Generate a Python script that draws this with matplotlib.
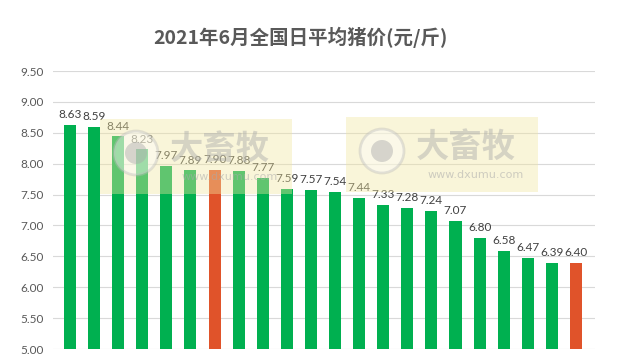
import matplotlib
matplotlib.use('Agg')
import numpy as np
import matplotlib.pyplot as plt
from matplotlib.patches import Rectangle, Circle

plt.rcParams['font.family'] = ['Noto Sans CJK SC', 'DejaVu Sans']

title = '2021年6月全国日平均猪价(元/斤)'
prices = [8.63, 8.59, 8.44, 8.23, 7.97, 7.89, 7.90, 7.88, 7.77, 7.59, 7.57,
          7.54, 7.44, 7.33, 7.28, 7.24, 7.07, 6.80, 6.58, 6.47, 6.39, 6.40]
highlight = [6, 21]          # orange bars
y_ticks = np.arange(5.0, 9.51, 0.5)

green = '#00B050'
orange = '#E0532A'
grey = '#595959'

fig = plt.figure(figsize=(6.18, 3.61), dpi=100)
ax = fig.add_axes([53 / 618, 12 / 361, 542 / 618, 278 / 361])

x = np.arange(len(prices))
colors = [orange if i in highlight else green for i in x]
ax.bar(x, np.array(prices) - 5.0, bottom=5.0, width=0.5, color=colors, zorder=2)

for xi, v in zip(x, prices):
    ax.text(xi, v + 0.08, f'{v:.2f}', ha='center', va='bottom', fontsize=8.5,
            color='#404040', family='Lato', zorder=4)

ax.set_ylim(5.0, 9.5)
ax.set_xlim(-0.705, 21.79)
ax.set_yticks(y_ticks)
ax.set_yticklabels([f'{t:.2f}' for t in y_ticks], fontsize=8.5, color=grey, family='Lato')
ax.set_xticks([])
ax.tick_params(axis='y', length=0, pad=7)
ax.grid(axis='y', color='#D9D9D9', linewidth=0.8, zorder=0)
for s in ax.spines.values():
    s.set_visible(False)

fig.text(300 / 618, 1 - 37 / 361, title, ha='center', va='center', fontsize=14,
         fontweight='bold', color=grey)

# watermarks
for x0, y0 in [(100, 119), (346, 117)]:
    fig.patches.append(Rectangle((x0 / 618, 1 - (y0 + 75) / 361), 192 / 618, 75 / 361,
                                 transform=fig.transFigure, facecolor='#F2E7A0',
                                 alpha=0.4, edgecolor='none', zorder=3))
    fig.patches.append(Circle((x0 + 36, 361 - (y0 + 34)), 22, transform=None,
                              facecolor='white', edgecolor='#BBBBBB', linewidth=2,
                              alpha=0.4, zorder=3))
    fig.patches.append(Circle((x0 + 36, 361 - (y0 + 34)), 11, transform=None,
                              facecolor='#AAAAAA', edgecolor='none', alpha=0.45, zorder=3))
    fig.text((x0 + 120) / 618, 1 - (y0 + 30) / 361, '大畜牧', ha='center', va='center',
             fontsize=24, fontweight='bold', color='#AAAAAA', alpha=0.45, zorder=4)
    fig.text((x0 + 130) / 618, 1 - (y0 + 58) / 361, 'www.dxumu.com', ha='center',
             va='center', fontsize=8, color='#AAAAAA', alpha=0.55, zorder=4,
             family='DejaVu Sans')

fig.savefig('out.png', dpi=100)
